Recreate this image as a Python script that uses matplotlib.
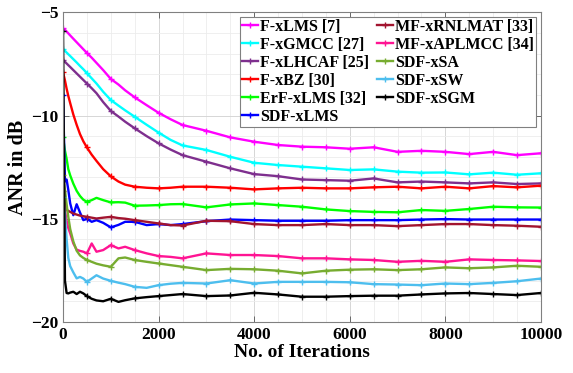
import matplotlib
matplotlib.use('Agg')
import matplotlib.pyplot as plt
from matplotlib.ticker import MultipleLocator

# iteration grid shared by all curves
its = [0, 40, 75, 110, 150, 215, 285, 355, 425, 500, 600, 700, 840, 1000, 1160,
       1300, 1500, 1750, 2000, 2250, 2500, 3000, 3500, 4000, 4500, 5000, 5500,
       6000, 6500, 7000, 7500, 8000, 8500, 9000, 9500, 10000]

f_xlms = [-5.78, -5.85, -5.93, -6.02, -6.12, -6.28, -6.45, -6.62, -6.79, -6.97, -7.2,
          -7.45, -7.8, -8.23, -8.5, -8.78, -9.12, -9.5, -9.87, -10.18, -10.46, -10.74,
          -11.06, -11.27, -11.43, -11.51, -11.54, -11.61, -11.54, -11.76, -11.71, -11.76,
          -11.87, -11.76, -11.92, -11.83]
f_xgmcc = [-6.79, -6.87, -6.95, -7.03, -7.12, -7.27, -7.43, -7.6, -7.76, -7.95, -8.2,
           -8.45, -8.85, -9.25, -9.52, -9.75, -10.06, -10.45, -10.83, -11.18, -11.45, -11.67,
           -12.0, -12.29, -12.4, -12.48, -12.56, -12.64, -12.61, -12.72, -12.77, -12.76,
           -12.85, -12.77, -12.87, -12.8]
f_xlhcaf = [-7.31, -7.4, -7.48, -7.56, -7.65, -7.8, -7.96, -8.12, -8.28, -8.45, -8.68,
            -8.92, -9.35, -9.78, -10.05, -10.3, -10.62, -11.0, -11.35, -11.65, -11.92, -12.24,
            -12.56, -12.84, -12.94, -13.1, -13.13, -13.16, -13.05, -13.24, -13.2, -13.24,
            -13.29, -13.24, -13.32, -13.29]
f_xbz = [-7.9, -8.3, -8.7, -9.05, -9.4, -9.95, -10.45, -10.9, -11.25, -11.55, -11.9,
         -12.2, -12.6, -12.95, -13.2, -13.35, -13.45, -13.5, -13.53, -13.5, -13.45, -13.45,
         -13.5, -13.58, -13.53, -13.5, -13.53, -13.53, -13.48, -13.45, -13.53, -13.45,
         -13.53, -13.42, -13.48, -13.4]
erf_xlms = [-11.05, -11.7, -12.1, -12.6, -12.9, -13.3, -13.65, -13.9, -14.08, -14.18, -14.1,
            -13.99, -14.1, -14.21, -14.2, -14.22, -14.37, -14.36, -14.34, -14.3, -14.29, -14.45,
            -14.31, -14.26, -14.34, -14.42, -14.55, -14.63, -14.67, -14.69, -14.58, -14.62,
            -14.53, -14.42, -14.45, -14.46]
sdf_xlms = [-9.0, -13.2, -13.1, -13.6, -14.26, -14.83, -14.3, -14.7, -15.07, -15.0, -15.15,
            -15.07, -15.2, -15.42, -15.3, -15.15, -15.15, -15.31, -15.26, -15.31, -15.26, -15.12,
            -15.04, -15.07, -15.1, -15.1, -15.1, -15.07, -15.07, -15.07, -15.04, -15.02,
            -15.04, -15.04, -15.04, -15.04]
mf_xrnlmat = [-13.65, -14.2, -14.58, -14.62, -14.67, -14.75, -14.8, -14.85, -14.88, -14.91, -14.95,
              -14.99, -14.95, -14.91, -14.97, -15.0, -15.07, -15.15, -15.23, -15.31, -15.33, -15.1,
              -15.12, -15.26, -15.31, -15.31, -15.26, -15.31, -15.31, -15.36, -15.31, -15.26,
              -15.26, -15.31, -15.34, -15.39]
mf_xaplmcc = [-13.95, -14.6, -15.1, -15.45, -15.71, -16.2, -16.5, -16.56, -16.6, -16.68, -16.2,
              -16.6, -16.52, -16.28, -16.44, -16.36, -16.52, -16.68, -16.81, -16.85, -16.92, -16.68,
              -16.76, -16.76, -16.81, -16.92, -16.92, -16.97, -17.0, -17.09, -17.04, -17.09,
              -16.97, -17.0, -17.02, -17.05]
sdf_xsa = [-12.9, -13.6, -14.3, -14.91, -15.5, -16.1, -16.55, -16.78, -16.9, -17.0, -17.09,
           -17.18, -17.26, -17.33, -16.92, -16.88, -17.0, -17.09, -17.17, -17.25, -17.33, -17.49,
           -17.43, -17.45, -17.52, -17.65, -17.52, -17.47, -17.45, -17.49, -17.45, -17.36,
           -17.4, -17.36, -17.28, -17.33]
sdf_xsw = [-13.95, -14.8, -16.0, -16.9, -17.3, -17.6, -17.89, -17.82, -17.9, -18.06, -17.9,
           -17.74, -17.9, -18.01, -18.1, -18.17, -18.3, -18.35, -18.22, -18.15, -18.11, -18.14,
           -17.98, -18.14, -18.06, -18.06, -18.06, -18.08, -18.17, -18.19, -18.22, -18.14,
           -18.17, -18.11, -18.03, -17.9]
sdf_xsgm = [-5.9, -18.0, -18.6, -18.62, -18.58, -18.54, -18.65, -18.54, -18.62, -18.75, -18.88,
            -18.96, -19.0, -18.88, -19.03, -18.95, -18.86, -18.8, -18.75, -18.7, -18.65, -18.75,
            -18.72, -18.59, -18.67, -18.78, -18.78, -18.75, -18.73, -18.73, -18.67, -18.62,
            -18.6, -18.65, -18.7, -18.6]

series = [
    ('F-xLMS [7]', f_xlms, '#FF00FF'),
    ('F-xGMCC [27]', f_xgmcc, '#00FFFF'),
    ('F-xLHCAF [25]', f_xlhcaf, '#7E2F8E'),
    ('F-xBZ [30]', f_xbz, '#FF0000'),
    ('ErF-xLMS [32]', erf_xlms, '#00FF00'),
    ('SDF-xLMS', sdf_xlms, '#0000FF'),
    ('MF-xRNLMAT [33]', mf_xrnlmat, '#A2142F'),
    ('MF-xAPLMCC [34]', mf_xaplmcc, '#FF1493'),
    ('SDF-xSA', sdf_xsa, '#77AC30'),
    ('SDF-xSW', sdf_xsw, '#4DBEEE'),
    ('SDF-xSGM', sdf_xsgm, '#000000'),
]

plt.rcParams['font.family'] = 'Liberation Serif'
plt.rcParams['font.weight'] = 'bold'

fig = plt.figure(figsize=(5.73, 3.73), dpi=100)
ax = fig.add_axes([0.110, 0.137, 0.834, 0.830])

marks = [i for i, v in enumerate(its) if v % 500 == 0]
for label, vals, col in series:
    ax.plot(its, vals, '-', color=col, linewidth=1.7, marker='+', markersize=4,
            markeredgewidth=1.0, markevery=marks, label=label)

ax.set_xlim(0, 10000)
ax.set_ylim(-20, -5)
ax.xaxis.set_major_locator(MultipleLocator(2000))
ax.xaxis.set_minor_locator(MultipleLocator(500))
ax.yaxis.set_major_locator(MultipleLocator(5))
ax.yaxis.set_minor_locator(MultipleLocator(1))
ax.grid(True, which='major', color='#d6d6d6', linewidth=0.7)
ax.grid(True, which='minor', color='#ececec', linewidth=0.6)
ax.set_axisbelow(True)
ax.tick_params(axis='both', which='both', direction='in', top=True, right=True)
ax.tick_params(axis='both', which='major', length=4, width=0.6, labelsize=12.5, color='#555555')
ax.tick_params(axis='both', which='minor', length=0)
for s in ax.spines.values():
    s.set_color('#808080')
    s.set_linewidth(0.8)

ax.set_xlabel('No. of Iterations', fontsize=14, fontweight='bold', labelpad=1)
ax.set_ylabel('ANR in dB', fontsize=14.5, fontweight='bold', labelpad=2)

leg = ax.legend(ncol=2, loc='upper right', bbox_to_anchor=(0.99, 0.986), borderaxespad=0,
                handlelength=1.0, handletextpad=0.1, columnspacing=0.5,
                labelspacing=0.12, borderpad=0.15, fancybox=False, framealpha=1,
                edgecolor='#808080', prop={'weight': 'bold', 'size': 11.5})
leg.get_frame().set_linewidth(0.8)

plt.savefig('out.png', dpi=100)
